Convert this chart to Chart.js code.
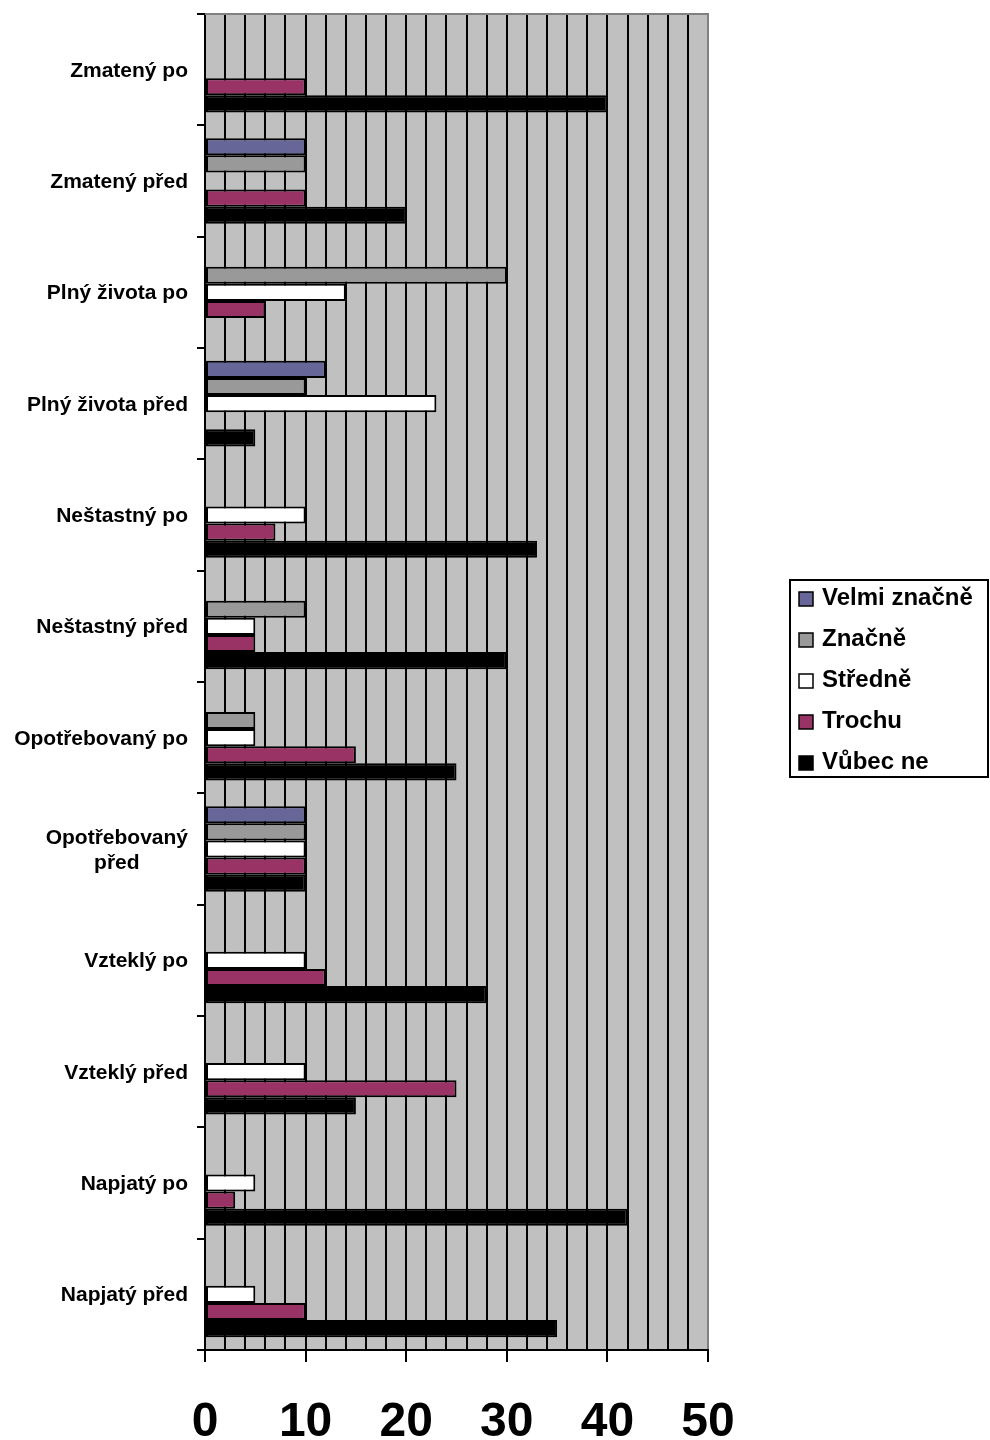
<!DOCTYPE html>
<html lang="cs">
<head>
<meta charset="utf-8">
<title>Nálada před a po</title>
<script src="https://cdn.jsdelivr.net/npm/chart.js@4.4.0/dist/chart.umd.min.js"></script>
<style>
  html, body { margin: 0; padding: 0; background: #fff; }
  canvas { display: block; }
</style>
</head>
<body>
<canvas id="moodChart" width="990" height="1440"></canvas>
<script>
// ---- DATA ----
const categories = [
  'Zmatený po',
  'Zmatený před',
  'Plný života po',
  'Plný života před',
  'Neštastný po',
  'Neštastný před',
  'Opotřebovaný po',
  ['Opotřebovaný', 'před'],
  'Vzteklý po',
  'Vzteklý před',
  'Napjatý po',
  'Napjatý před'
];

const seriesNames = ['Velmi značně', 'Značně', 'Středně', 'Trochu', 'Vůbec ne'];

const velmiZnacne = [0, 10, 0, 12, 0, 0, 0, 10, 0, 0, 0, 0];
const znacne      = [0, 10, 30, 10, 0, 10, 5, 10, 0, 0, 0, 0];
const stredne     = [0, 0, 14, 23, 10, 5, 5, 10, 10, 10, 5, 5];
const trochu      = [10, 10, 6, 0, 7, 5, 15, 10, 12, 25, 3, 10];
const vubecNe     = [40, 20, 0, 5, 33, 30, 25, 10, 28, 15, 42, 35];

const xTickLabels = [0, 10, 20, 30, 40, 50];
const gridStep = 2;

// ---- STYLE ----
const FONT = '"Liberation Sans", Arial, Helvetica, sans-serif';
const seriesColors = ['#666699', '#999999', '#ffffff', '#993366', '#000000'];
const plotBg = '#c0c0c0';
const plotEdge = '#808080';

// ---- PLUGINS ----
// gray plot area with a gray frame on top (right side comes from the last grid line)
const plotBackground = {
  id: 'plotBackground',
  beforeDraw(chart) {
    const { ctx, chartArea: a } = chart;
    ctx.save();
    ctx.fillStyle = plotBg;
    ctx.fillRect(a.left, a.top, a.right - a.left, a.bottom - a.top);
    ctx.restore();
  },
  beforeDatasetsDraw(chart) {
    const { ctx, chartArea: a } = chart;
    ctx.save();
    ctx.strokeStyle = plotEdge;
    ctx.lineWidth = 2;
    ctx.beginPath();
    ctx.moveTo(a.left, a.top);
    ctx.lineTo(a.right + 1, a.top);
    ctx.stroke();
    ctx.restore();
  }
};

// category names: block right-aligned, lines centred on each other
const categoryLabels = {
  id: 'categoryLabels',
  afterDraw(chart) {
    const { ctx } = chart;
    const yScale = chart.scales.y;
    const rightEdge = yScale.right - 17;
    const lineGap = 25;
    ctx.save();
    ctx.font = 'bold 21px ' + FONT;
    ctx.fillStyle = '#000';
    ctx.textAlign = 'center';
    ctx.textBaseline = 'alphabetic';
    categories.forEach((label, i) => {
      const lines = [].concat(label);
      const yc = yScale.getPixelForValue(i);
      const maxW = Math.max(...lines.map(t => ctx.measureText(t).width));
      const cx = rightEdge - maxW / 2;
      lines.forEach((t, k) => {
        const y = yc + 7 + (k - (lines.length - 1) / 2) * lineGap;
        ctx.fillText(t, cx, y);
      });
    });
    ctx.restore();
  }
};

// framed legend to the right of the plot
const boxLegend = {
  id: 'boxLegend',
  afterDraw(chart) {
    const { ctx } = chart;
    const box = { x: 790, y: 580, w: 199, h: 197 };
    ctx.save();
    ctx.fillStyle = '#fff';
    ctx.fillRect(box.x, box.y, box.w, box.h);
    ctx.strokeStyle = '#000';
    ctx.lineWidth = 2;
    ctx.strokeRect(box.x, box.y, box.w - 1, box.h);

    ctx.font = 'bold 24px ' + FONT;
    ctx.textAlign = 'left';
    ctx.textBaseline = 'alphabetic';
    chart.data.datasets.forEach((ds, i) => {
      const base = 605 + i * 41;
      ctx.fillStyle = ds.backgroundColor;
      ctx.fillRect(799, base - 13, 14, 14);
      ctx.lineWidth = 1.5;
      ctx.strokeStyle = '#000';
      ctx.strokeRect(799, base - 13, 14, 14);
      ctx.fillStyle = '#000';
      ctx.fillText(ds.label, 822, base);
    });
    ctx.restore();
  }
};

// ---- CHART ----
const seriesValues = [velmiZnacne, znacne, stredne, trochu, vubecNe];

new Chart(document.getElementById('moodChart'), {
  type: 'bar',
  data: {
    labels: categories,
    datasets: seriesNames.map((name, i) => ({
      label: name,
      data: seriesValues[i],
      backgroundColor: seriesColors[i],
      borderColor: '#000',
      borderWidth: 2,
      borderSkipped: false,
      categoryPercentage: 5 / 6.5,
      barPercentage: 1
    }))
  },
  options: {
    indexAxis: 'y',
    responsive: false,
    animation: false,
    layout: { padding: { top: 14, right: 282, left: 0, bottom: 0 } },
    plugins: {
      legend: { display: false },
      tooltip: { enabled: false }
    },
    scales: {
      x: {
        type: 'linear',
        min: xTickLabels[0],
        max: xTickLabels[xTickLabels.length - 1],
        afterFit: s => { s.height = 90; },
        border: { display: true, color: '#000', width: 2 },
        grid: {
          lineWidth: 2,
          tickLength: 12,
          color: c => (c.tick && c.tick.value === xTickLabels[xTickLabels.length - 1]) ? plotEdge : '#000',
          tickColor: c => (c.tick && xTickLabels.includes(c.tick.value)) ? '#000' : 'rgba(0,0,0,0)'
        },
        ticks: {
          stepSize: gridStep,
          autoSkip: false,
          maxRotation: 0,
          minRotation: 0,
          padding: 32,
          color: '#000',
          font: { family: FONT, size: 48, weight: 'bold' },
          callback: v => xTickLabels.includes(v) ? String(v) : ''
        }
      },
      y: {
        type: 'category',
        afterFit: s => { s.width = 205; },
        border: { display: true, color: '#000', width: 2 },
        grid: {
          offset: true,
          drawOnChartArea: false,
          drawTicks: true,
          tickLength: 8,
          lineWidth: 2,
          color: '#000'
        },
        ticks: { display: false }
      }
    }
  },
  plugins: [plotBackground, categoryLabels, boxLegend]
});
</script>
</body>
</html>
